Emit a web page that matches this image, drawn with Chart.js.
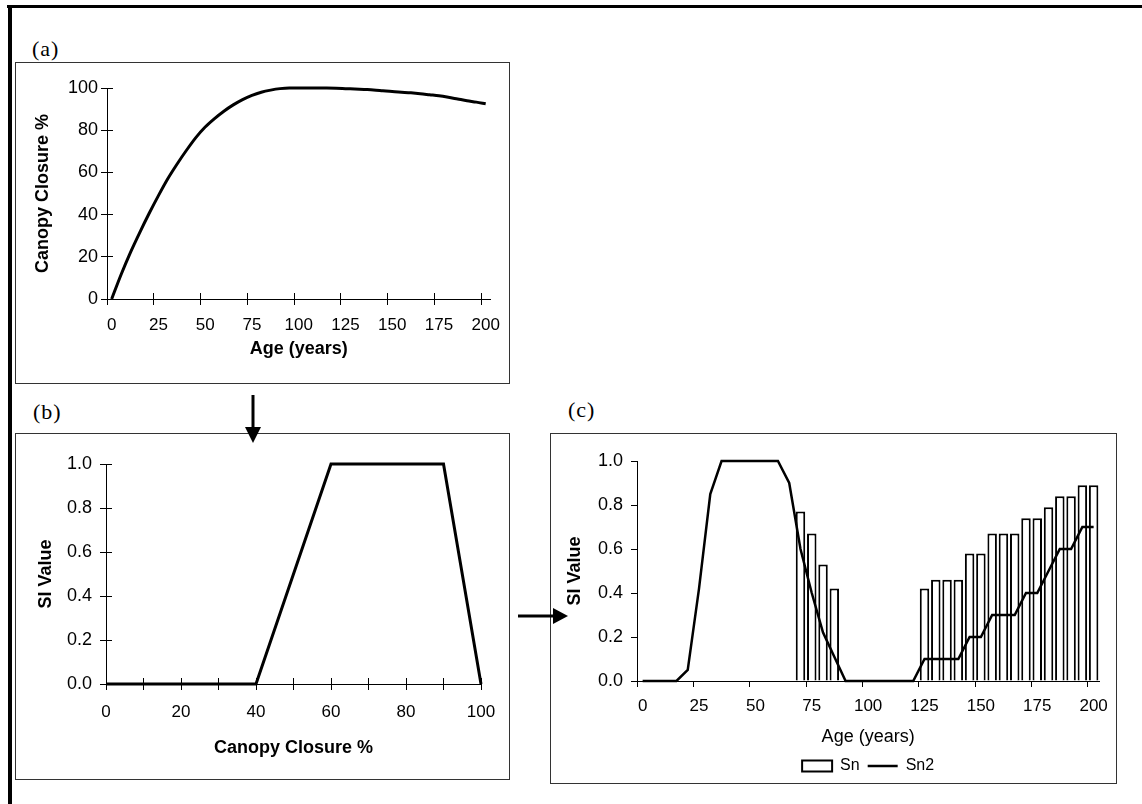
<!DOCTYPE html>
<html>
<head>
<meta charset="utf-8">
<title>Canopy closure and SI value by stand age</title>
<script src="https://cdn.jsdelivr.net/npm/chart.js@4.4.1/dist/chart.umd.min.js"></script>
<style>
  body { margin: 0; width: 1142px; height: 804px; background: #fff; position: relative; overflow: hidden; }
  .frame-top { position: absolute; left: 7px; top: 5px; width: 1135px; height: 3px; background: #000; }
  .frame-left { position: absolute; left: 8px; top: 5px; width: 4px; height: 799px; background: #000; }
  .box { position: absolute; border: 1px solid #333; box-sizing: border-box; }
  .panel-label { position: absolute; font-family: "Liberation Serif", "Times New Roman", serif; font-size: 22px; letter-spacing: 1px; line-height: 1; color: #000; }
  canvas { position: absolute; }
  svg { position: absolute; left: 0; top: 0; }
</style>
</head>
<body>
<div class="frame-top"></div>
<div class="frame-left"></div>

<div class="box" style="left:15px; top:62px; width:495px; height:322px;"></div>
<div class="box" style="left:15px; top:433px; width:495px; height:347px;"></div>
<div class="box" style="left:550px; top:433px; width:567px; height:351px;"></div>

<div class="panel-label" style="left:32px; top:38px;">(a)</div>
<div class="panel-label" style="left:33px; top:401px;">(b)</div>
<div class="panel-label" style="left:568px; top:399px;">(c)</div>

<svg width="1142" height="804">
  <line x1="253" y1="395" x2="253" y2="430" stroke="#000" stroke-width="3"/>
  <polygon points="245,427 261,427 253,443" fill="#000"/>
  <line x1="518" y1="616" x2="556" y2="616" stroke="#000" stroke-width="3"/>
  <polygon points="553,608 553,624 568,616" fill="#000"/>
</svg>

<canvas id="chartA" width="495" height="322" style="left:15px; top:62px;"></canvas>
<canvas id="chartB" width="495" height="347" style="left:15px; top:433px;"></canvas>
<canvas id="chartC" width="567" height="351" style="left:550px; top:433px;"></canvas>

<script>
// stand age categories, used by (a) and (c)
const ageYears = [0, 5, 10, 15, 20, 25, 30, 35, 40, 45, 50, 55, 60, 65, 70, 75, 80, 85, 90, 95, 100,
  105, 110, 115, 120, 125, 130, 135, 140, 145, 150, 155, 160, 165, 170, 175, 180, 185, 190, 195, 200];

// (a) canopy closure % by age
const canopyClosure = [0, 11.5, 22, 31.5, 40.5, 49, 57, 64, 70.5, 76.5, 81.5, 85.5, 89, 92, 94.5, 96.5, 98, 99, 99.7, 100, 100,
  100, 100, 100, 99.9, 99.7, 99.5, 99.3, 99.1, 98.7, 98.3, 98, 97.7, 97.3, 96.8, 96.3, 95.6, 94.8, 94, 93.3, 92.5];

// (b) SI curve over canopy closure
const siCanopy = [0, 40, 60, 90, 100];
const siValue = [0, 0, 1, 1, 0];

// (c) Sn bars and Sn2 line by age
const snBars = [null, null, null, null, null, null, null, null, null, null, null, null, null, null,
  0.77, 0.67, 0.53, 0.42, null, null, null, null, null, null, null,
  0.42, 0.46, 0.46, 0.46, 0.58, 0.58, 0.67, 0.67, 0.67, 0.74, 0.74, 0.79, 0.84, 0.84, 0.89, 0.89];
const sn2Line = [0, 0, 0, 0, 0.05, 0.42, 0.85, 1, 1, 1, 1, 1, 1, 0.9, 0.6, 0.4, 0.22, 0.11, 0, 0, 0,
  0, 0, 0, 0, 0.1, 0.1, 0.1, 0.1, 0.2, 0.2, 0.3, 0.3, 0.3, 0.4, 0.4, 0.5, 0.6, 0.6, 0.7, 0.7];

const CLEAR = 'rgba(0,0,0,0)';

Chart.defaults.font.family = '"Liberation Sans", Arial, sans-serif';
Chart.defaults.color = '#000';
Chart.defaults.animation = false;
Chart.defaults.events = [];
Chart.defaults.plugins.tooltip.enabled = false;

// only every 5th category gets a tick mark / label
const everyFifth = (ctx) => (ctx.index % 5 === 0 ? '#000' : CLEAR);
const ageLabel = (v, i) => (i % 5 === 0 ? ageYears[i] : '');

// Excel style cross ticks: mirror each tick mark inside the plot
const crossTicks = {
  id: 'crossTicks',
  afterDraw(chart, args, opts) {
    const { ctx, chartArea } = chart;
    ctx.save();
    ctx.lineWidth = 1;
    for (const id of ['x', 'y']) {
      const len = opts[id];
      const scale = chart.scales[id];
      if (!len || !scale._gridLineItems) continue;
      for (const item of scale._gridLineItems) {
        if (item.tickColor === CLEAR) continue;
        ctx.strokeStyle = item.tickColor;
        ctx.beginPath();
        if (id === 'x') {
          ctx.moveTo(item.tx1, chartArea.bottom);
          ctx.lineTo(item.tx1, chartArea.bottom - len);
        } else {
          ctx.moveTo(chartArea.left, item.ty1);
          ctx.lineTo(chartArea.left + len, item.ty1);
        }
        ctx.stroke();
      }
    }
    ctx.restore();
  }
};

// (a)
new Chart(document.getElementById('chartA'), {
  type: 'line',
  data: {
    labels: ageYears,
    datasets: [{
      label: 'Canopy Closure %',
      data: canopyClosure,
      borderColor: '#000',
      borderWidth: 3,
      pointRadius: 0,
      cubicInterpolationMode: 'monotone',
      clip: 4
    }]
  },
  options: {
    responsive: false,
    devicePixelRatio: 1,
    layout: { padding: { left: 0, right: 10, top: 26, bottom: 0 } },
    plugins: { legend: { display: false }, crossTicks: { x: 6, y: 6 } },
    scales: {
      x: {
        type: 'category',
        offset: true,
        grid: { offset: true, drawOnChartArea: false, tickLength: 6, tickColor: everyFifth },
        border: { color: '#000' },
        ticks: { autoSkip: false, maxRotation: 0, padding: 10, font: { size: 17 }, callback: ageLabel },
        title: { display: true, text: 'Age (years)', font: { size: 18, weight: 'bold' }, padding: { top: 0, bottom: 24 } },
        afterFit: (s) => { s.height = 85; }
      },
      y: {
        min: 0,
        max: 100,
        ticks: { stepSize: 20, padding: 3, font: { size: 18 } },
        grid: { drawOnChartArea: false, tickLength: 6, tickColor: '#000' },
        border: { color: '#000' },
        title: { display: true, text: 'Canopy Closure %', font: { size: 18, weight: 'bold' }, padding: { top: 17, bottom: 0 } },
        afterFit: (s) => { s.width = 92; }
      }
    }
  },
  plugins: [crossTicks]
});

// (b)
new Chart(document.getElementById('chartB'), {
  type: 'line',
  data: {
    datasets: [{
      label: 'SI Value',
      data: siCanopy.map((c, i) => ({ x: c, y: siValue[i] })),
      borderColor: '#000',
      borderWidth: 3,
      pointRadius: 0,
      tension: 0,
      clip: 4
    }]
  },
  options: {
    responsive: false,
    devicePixelRatio: 1,
    layout: { padding: { left: 0, right: 29, top: 31, bottom: 0 } },
    plugins: { legend: { display: false }, crossTicks: { x: 6, y: 6 } },
    scales: {
      x: {
        type: 'linear',
        min: 0,
        max: 100,
        grid: { drawOnChartArea: false, tickLength: 6, tickColor: '#000' },
        border: { color: '#000' },
        ticks: { stepSize: 10, maxRotation: 0, padding: 12, font: { size: 17 },
          callback: (v) => (v % 20 === 0 ? v : '') },
        title: { display: true, text: 'Canopy Closure %', font: { size: 18, weight: 'bold' }, padding: { top: 0, bottom: 21 } },
        afterFit: (s) => { s.height = 96; }
      },
      y: {
        min: 0,
        max: 1,
        ticks: { stepSize: 0.2, padding: 8, font: { size: 18 }, callback: (v) => v.toFixed(1) },
        grid: { drawOnChartArea: false, tickLength: 6, tickColor: '#000' },
        border: { color: '#000' },
        title: { display: true, text: 'SI Value', font: { size: 18, weight: 'bold' }, padding: { top: 20, bottom: 0 } },
        afterFit: (s) => { s.width = 91; }
      }
    }
  },
  plugins: [crossTicks]
});

// (c)
new Chart(document.getElementById('chartC'), {
  type: 'bar',
  data: {
    labels: ageYears,
    datasets: [
      {
        label: 'Sn',
        data: snBars,
        backgroundColor: '#fff',
        borderColor: '#000',
        borderWidth: 2,
        barPercentage: 0.84,
        categoryPercentage: 1,
        pointStyle: 'rect',
        order: 1
      },
      {
        type: 'line',
        label: 'Sn2',
        data: sn2Line,
        borderColor: '#000',
        backgroundColor: '#000',
        borderWidth: 2.5,
        pointRadius: 0,
        pointStyle: 'line',
        tension: 0,
        clip: 4,
        order: 0
      }
    ]
  },
  options: {
    responsive: false,
    devicePixelRatio: 1,
    layout: { padding: { left: 0, right: 15, top: 28, bottom: 0 } },
    plugins: {
      legend: {
        position: 'bottom',
        fullSize: false,
        labels: {
          usePointStyle: true,
          pointStyleWidth: 30,
          boxHeight: 11,
          padding: 8,
          color: '#000',
          font: { size: 16 },
          sort: (a, b) => a.datasetIndex - b.datasetIndex
        }
      }
    },
    scales: {
      x: {
        grid: { offset: true, drawOnChartArea: false, tickLength: 6, tickColor: everyFifth },
        border: { color: '#000' },
        ticks: { autoSkip: false, maxRotation: 0, padding: 9, font: { size: 17 }, callback: ageLabel },
        title: { display: true, text: 'Age (years)', font: { size: 18 }, padding: { top: 0, bottom: 2 } },
        afterFit: (s) => { s.height = 69; }
      },
      y: {
        min: 0,
        max: 1,
        ticks: { stepSize: 0.2, padding: 8, font: { size: 18 }, callback: (v) => v.toFixed(1) },
        grid: { drawOnChartArea: false, tickLength: 6, tickColor: '#000' },
        border: { color: '#000' },
        title: { display: true, text: 'SI Value', font: { size: 18, weight: 'bold' }, padding: { top: 14, bottom: 0 } },
        afterFit: (s) => { s.width = 87; }
      }
    }
  }
});
</script>
</body>
</html>
